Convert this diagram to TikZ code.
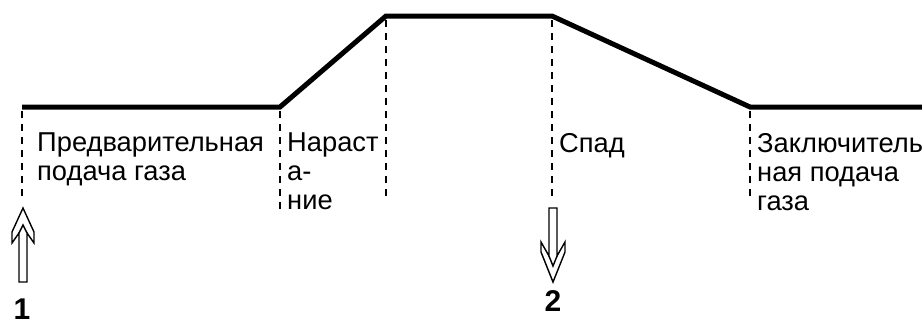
\documentclass[tikz,border=0pt]{standalone}
\usepackage{fontspec}
\setmainfont{Liberation Sans}
\begin{document}
\begin{tikzpicture}[x=1pt,y=-1pt,
  profile/.style={line width=5pt,line join=miter},
  guide/.style={line width=1.8pt,dash pattern=on 7pt off 6pt},
  lbl/.style={anchor=north west,inner sep=0pt,align=left,font=\fontsize{27.3}{29}\selectfont},
  num/.style={inner sep=0pt,font=\fontsize{30}{30}\selectfont\bfseries},
  hollow/.style={line width=1.4pt,fill=white,line join=miter}]
\useasboundingbox (0,0) rectangle (922,327);
% profile points
\coordinate (p0) at (22,107);
\coordinate (p1) at (280,107);
\coordinate (p2) at (386,16);
\coordinate (p3) at (552,16);
\coordinate (p4) at (750,107);
\coordinate (p5) at (922,107);
\draw[profile] (p0) -- (p1) -- (p2) -- (p3) -- (p4) -- (p5);
% guide lines
\coordinate (g0) at (22,198);
\coordinate (g1) at (280,213);
\coordinate (g2) at (386,198);
\coordinate (g3) at (552,200);
\coordinate (g4) at (750,200);
\draw[guide] ([yshift=-4pt]p0) -- (g0);
\draw[guide] ([yshift=-4pt]p1) -- (g1);
\draw[guide] ([yshift=-4pt]p2) -- (g2);
\draw[guide] ([yshift=-4pt]p3) -- (g3);
\draw[guide] ([yshift=-4pt]p4) -- (g4);
% labels
\node[lbl] (t1) at (37,133) {Предварительная\\подача газа};
\node[lbl] (t2) at (287,133) {Нараст\\а-\\ние};
\node[lbl] (t3) at (559,133) {Спад};
\node[lbl] (t4) at (757,133) {Заключитель\\ная подача\\газа};
% arrow 1 (up)
\draw[hollow] (23,208) -- (34,232) -- (34,243) -- (27,233) -- (27,282) -- (19,282) -- (19,233) -- (12,243) -- (12,232) -- cycle;
\draw[line width=1.4pt] (19,233) -- (23,225) -- (27,233);
% arrow 2 (down)
\draw[hollow] (553,282) -- (565,252) -- (565,242) -- (557,256) -- (557,208) -- (549,208) -- (549,256) -- (541,242) -- (541,252) -- cycle;
\draw[line width=1.4pt] (549,256) -- (553,266) -- (557,256);
% numbers
\node[num] (n1) at (22,309) {1};
\node[num] (n2) at (553,301) {2};
\end{tikzpicture}
\end{document}
